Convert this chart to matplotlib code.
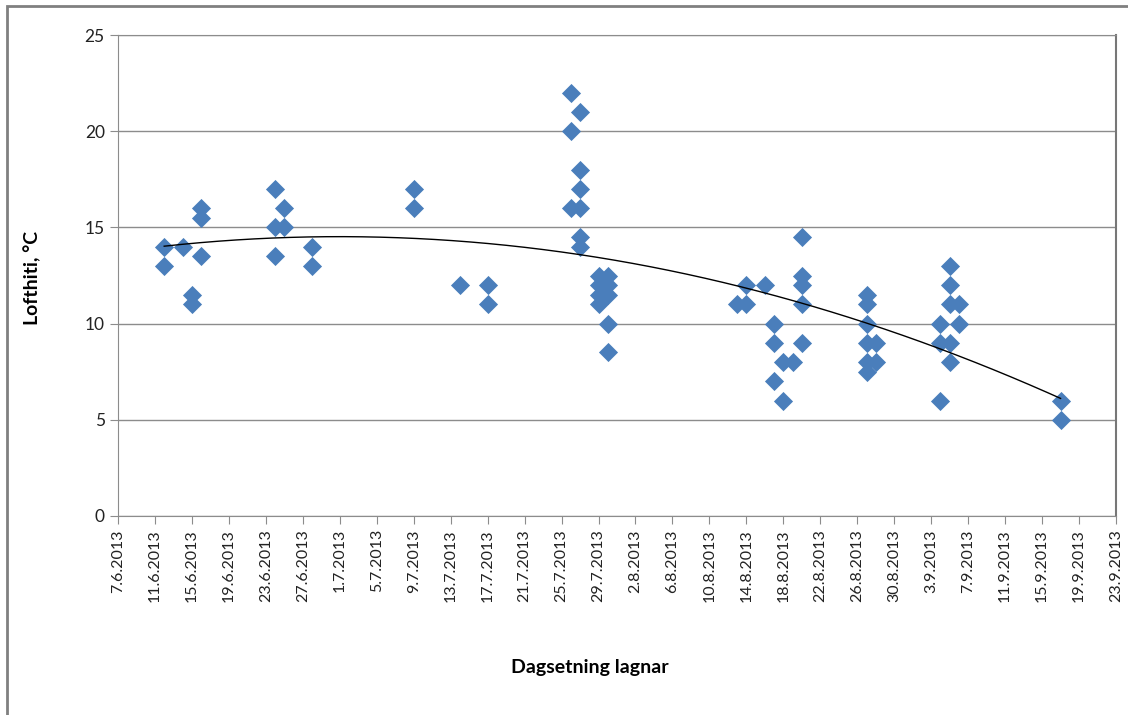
import datetime as dt
import numpy as np
import matplotlib
matplotlib.use("Agg")
import matplotlib.pyplot as plt
import matplotlib.dates as mdates
from matplotlib.patches import Rectangle

plt.rcParams['font.family'] = ['Lato', 'DejaVu Sans']

# sampling days (d.m, 2013) and air temperature per sample
days = ["12.6", "12.6", "14.6", "15.6", "15.6", "16.6", "16.6", "16.6",
        "24.6", "24.6", "24.6", "25.6", "25.6", "28.6", "28.6",
        "9.7", "9.7", "14.7", "17.7", "17.7",
        "26.7", "26.7", "26.7",
        "27.7", "27.7", "27.7", "27.7", "27.7", "27.7",
        "29.7", "29.7", "29.7", "29.7",
        "30.7", "30.7", "30.7", "30.7", "30.7",
        "13.8", "14.8", "14.8", "16.8", "17.8", "17.8", "17.8",
        "18.8", "18.8", "19.8",
        "20.8", "20.8", "20.8", "20.8", "20.8",
        "27.8", "27.8", "27.8", "27.8", "27.8", "27.8", "28.8", "28.8",
        "4.9", "4.9", "4.9", "5.9", "5.9", "5.9", "5.9", "5.9",
        "6.9", "6.9", "17.9", "17.9"]
temps = [14, 13, 14, 11.5, 11, 16, 15.5, 13.5,
         17, 15, 13.5, 16, 15, 14, 13,
         17, 16, 12, 12, 11,
         22, 20, 16,
         21, 18, 17, 16, 14.5, 14,
         12.5, 12, 11.5, 11,
         12.5, 12, 11.5, 10, 8.5,
         11, 12, 11, 12, 10, 9, 7,
         8, 6, 8,
         14.5, 12.5, 12, 11, 9,
         11.5, 11, 10, 9, 8, 7.5, 9, 8,
         10, 9, 6, 13, 12, 11, 9, 8,
         11, 10, 6, 5]

x_start = dt.date(2013, 6, 7)
x_end = dt.date(2013, 9, 23)

dates = [dt.date(2013, int(d.split(".")[1]), int(d.split(".")[0])) for d in days]
xnum = mdates.date2num(dates)

fig = plt.figure(figsize=(11.28, 7.15), dpi=100)
ax = fig.add_axes([118/1128, 1 - 516/715, (1116-118)/1128, (516-35)/715])

ax.scatter(xnum, temps, marker='D', s=95, color='#4A7EBB', zorder=3,
           linewidths=0)

# second order trend line over the sampled period
x0 = xnum.min()
coef = np.polyfit(xnum - x0, temps, 2)
xs = np.linspace(xnum.min(), xnum.max(), 200)
ax.plot(xs, np.polyval(coef, xs - x0), color='black', linewidth=1, zorder=4)

ax.set_xlim(mdates.date2num(x_start), mdates.date2num(x_end))
ax.set_ylim(0, 25)
ax.set_yticks(range(0, 26, 5))
ax.grid(axis='y', color='#8c8c8c', linewidth=1)
ax.set_axisbelow(True)

ticks = [x_start + dt.timedelta(days=4*i) for i in range(28)]
ax.set_xticks(mdates.date2num(ticks))
ax.set_xticklabels([f"{t.day}.{t.month}.{t.year}" for t in ticks],
                   rotation=90, fontsize=11.5, color='#222222')
ax.tick_params(axis='y', labelsize=12.5, colors='#222222')
ax.tick_params(axis='both', direction='out', length=6, color='#8c8c8c')

for side in ['left', 'bottom', 'top']:
    ax.spines[side].set_color('#8c8c8c')
ax.spines['right'].set_color('#777777')
ax.spines['right'].set_linewidth(1.5)

fig.text(32/1128, 1 - 278/715, "Lofthiti, °C", rotation=90, fontsize=14,
         fontweight='bold', ha='center', va='center')
fig.text(590/1128, 1 - 668/715, "Dagsetning lagnar", fontsize=14,
         fontweight='bold', ha='center', va='center')

# outer chart frame
fig.patches.append(Rectangle((7/1128, -0.05), 1.1, 1 - 6/715 + 0.05,
                             transform=fig.transFigure, fill=False,
                             edgecolor='#808080', linewidth=2))

fig.savefig("out.png", dpi=100)
